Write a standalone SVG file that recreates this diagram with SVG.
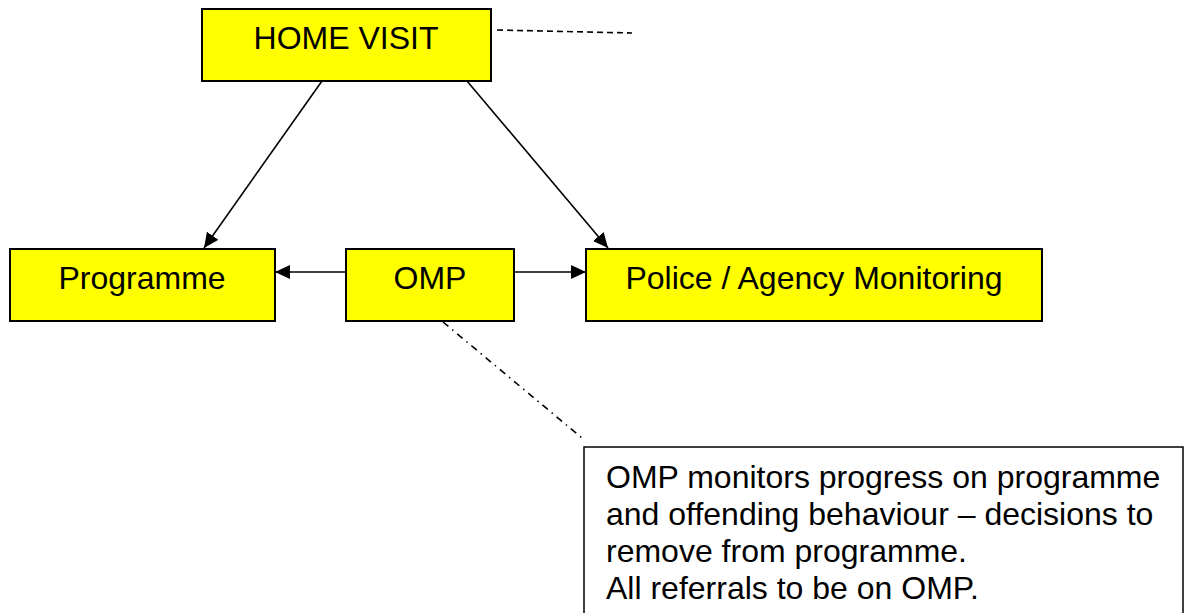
<svg xmlns="http://www.w3.org/2000/svg" width="1189" height="613" viewBox="0 0 1189 613">
<style>
.box{fill:#ffff00;stroke:#000;stroke-width:2}
.note{fill:#fff;stroke:#000;stroke-width:1.5}
.t{font-family:"Liberation Sans",Arial,sans-serif;font-size:32px;fill:#000}
.c{text-anchor:middle}
.ln{stroke:#000;stroke-width:1.6;fill:none}
</style>
<defs>
<marker id="ah" viewBox="0 0 15 14" refX="15" refY="7" markerWidth="15" markerHeight="14" markerUnits="userSpaceOnUse" orient="auto">
<path d="M0,0 L15,7 L0,14 z" fill="#000"/>
</marker>
</defs>
<rect width="1189" height="613" fill="#fff"/>
<g id="connectors">
<line class="ln" x1="322" y1="81" x2="204" y2="248" marker-end="url(#ah)"/>
<line class="ln" x1="467" y1="81" x2="608" y2="248" marker-end="url(#ah)"/>
<line class="ln" x1="346" y1="272" x2="275" y2="272" marker-end="url(#ah)"/>
<line class="ln" x1="514" y1="272" x2="586" y2="272" marker-end="url(#ah)"/>
<line class="ln" x1="497" y1="30" x2="632" y2="33" stroke-dasharray="6 4"/>
<line class="ln" x1="443" y1="322" x2="582" y2="438" stroke-dasharray="7 5 1.5 5"/>
</g>
<g id="home-visit">
<rect class="box" x="202" y="9" width="289" height="72"/>
<text class="t c" x="346" y="49">HOME VISIT</text>
</g>
<g id="programme">
<rect class="box" x="10" y="249" width="265" height="72"/>
<text class="t c" x="142" y="289">Programme</text>
</g>
<g id="omp">
<rect class="box" x="346" y="249" width="168" height="72"/>
<text class="t c" x="430" y="289">OMP</text>
</g>
<g id="police">
<rect class="box" x="586" y="249" width="456" height="72"/>
<text class="t c" x="814" y="289">Police / Agency Monitoring</text>
</g>
<g id="note">
<rect class="note" x="584" y="447" width="599" height="170"/>
<text class="t" x="606" y="488">OMP monitors progress on programme</text>
<text class="t" x="606" y="525">and offending behaviour – decisions to</text>
<text class="t" x="606" y="562">remove from programme.</text>
<text class="t" x="606" y="599">All referrals to be on OMP.</text>
</g>
</svg>
